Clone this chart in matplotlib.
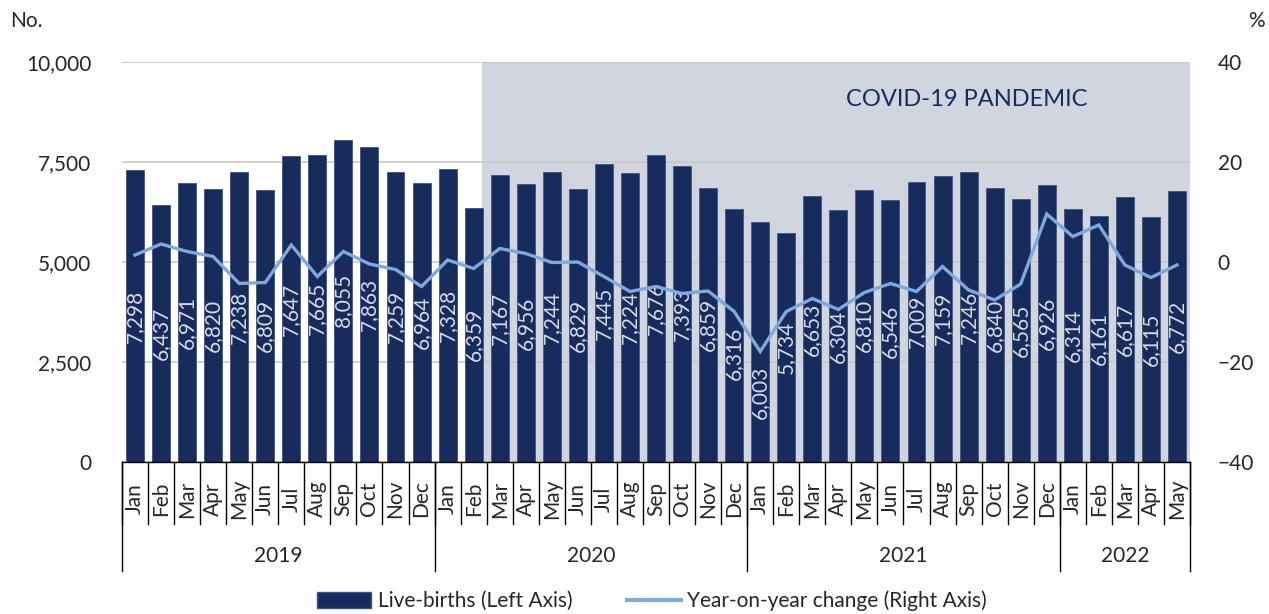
import matplotlib
matplotlib.use("Agg")
import matplotlib.pyplot as plt
import matplotlib.transforms as mtransforms
from matplotlib.patches import Patch
from matplotlib.lines import Line2D
import numpy as np

plt.rcParams['font.family'] = ['Lato', 'DejaVu Sans']

months = ["Jan", "Feb", "Mar", "Apr", "May", "Jun", "Jul", "Aug", "Sep", "Oct", "Nov", "Dec",
          "Jan", "Feb", "Mar", "Apr", "May", "Jun", "Jul", "Aug", "Sep", "Oct", "Nov", "Dec",
          "Jan", "Feb", "Mar", "Apr", "May", "Jun", "Jul", "Aug", "Sep", "Oct", "Nov", "Dec",
          "Jan", "Feb", "Mar", "Apr", "May"]
years = ["2019", "2020", "2021", "2022"]
year_counts = [12, 12, 12, 5]

live_births = [7298, 6437, 6971, 6820, 7238, 6809, 7647, 7665, 8055, 7863, 7259, 6964,
               7328, 6359, 7167, 6956, 7244, 6829, 7445, 7224, 7676, 7393, 6859, 6316,
               6003, 5734, 6653, 6304, 6810, 6546, 7009, 7159, 7246, 6840, 6565, 6926,
               6314, 6161, 6617, 6115, 6772]

yoy_change = [1.4, 3.6, 2.1, 1.1, -4.3, -4.1, 3.4, -2.9, 2.1, -0.4, -1.5, -4.9,
              0.4, -1.3, 2.7, 1.7, -0.1, 0.0, -2.9, -5.9, -4.9, -6.3, -5.8, -9.9,
              -17.9, -9.9, -7.3, -9.5, -6.1, -4.3, -5.9, -0.9, -5.6, -7.6, -4.4, 9.6,
              5.1, 7.4, -0.6, -3.1, -0.6]

BAR = "#172b5c"
LINE = "#80a8dd"
SHADE = "#d0d5e0"
LABEL = "#d5dae6"
TXT = "#262626"

n = len(live_births)
x = np.arange(n)

fig = plt.figure(figsize=(12.69, 6.14), dpi=100)
ax = fig.add_axes([122/1269, 1-462/614, (1190-122)/1269, 400/614])
ax2 = ax.twinx()

# pandemic shading
ax.axvspan(13.32, n - 0.5, color=SHADE, zorder=0.2, lw=0)
ax.text(0.904, 0.905, "COVID-19 PANDEMIC", transform=ax.transAxes, ha="right", va="center",
        fontsize=17, color=BAR, zorder=5)

ax.bar(x, live_births, width=0.69, color=BAR, edgecolor="#3f5380", linewidth=0.6, zorder=2)

# data labels (centered in bars, a couple moved down to avoid the line)
label_shift = {23: -430, 24: -1250}
for i, v in enumerate(live_births):
    ypos = v / 2 + label_shift.get(i, 0)
    ax.text(i, ypos, f"{v:,}", rotation=90, ha="center", va="center", color=LABEL,
            fontsize=15, fontweight="normal", zorder=3)

ax.set_xlim(-0.5, n - 0.5)
ax.set_ylim(0, 10000)
ax.set_yticks([0, 2500, 5000, 7500, 10000])
ax.set_yticklabels(["0", "2,500", "5,000", "7,500", "10,000"])
ax.yaxis.grid(True, color="#c8c8c8", lw=1.2)
ax.set_axisbelow(True)
ax.tick_params(axis="y", length=0, pad=22, labelsize=15, labelcolor=TXT)
ax.set_xticks([])

ax2.plot(x, yoy_change, color=LINE, lw=2.4, zorder=4, solid_joinstyle="miter")
ax2.set_ylim(-40, 40)
ax2.set_yticks([-40, -20, 0, 20, 40])
ax2.tick_params(axis="y", length=0, pad=20, labelsize=15, labelcolor=TXT)
for lab in ax2.get_yticklabels():
    lab.set_ha("left")

for a in (ax, ax2):
    for s in ("top", "left", "right"):
        a.spines[s].set_visible(False)
    a.spines["bottom"].set_color("#000000")
    a.spines["bottom"].set_linewidth(1.0)
ax2.spines["bottom"].set_visible(False)

# multi-level category axis
trans = mtransforms.blended_transform_factory(ax.transData, ax.transAxes)
for b in range(n + 1):
    bx = b - 0.5
    ax.plot([bx, bx], [0, -62/400], color="#000000", lw=1.0, transform=trans, clip_on=False)
for i, m in enumerate(months):
    ax.text(i, -37/400, m, rotation=90, ha="center", va="center", fontsize=15,
            color=TXT, transform=trans)
start = 0
bounds = [-0.5]
for yr, c in zip(years, year_counts):
    ax.text(start + (c - 1) / 2, -94/400, yr, ha="center", va="center", fontsize=15,
            color=TXT, transform=trans)
    start += c
    bounds.append(start - 0.5)
for bx in bounds:
    ax.plot([bx, bx], [0, -109/400], color="#000000", lw=1.0, transform=trans, clip_on=False)

fig.text(10/1269, 1-21/614, "No.", ha="left", va="center", fontsize=15, color=TXT)
fig.text(1265/1269, 1-21/614, "%", ha="right", va="center", fontsize=15, color=TXT)

handles = [Patch(facecolor=BAR, edgecolor="#3f5380", label="Live-births (Left Axis)"),
           Line2D([0], [0], color=LINE, lw=3, label="Year-on-year change (Right Axis)")]
fig.legend(handles=handles, loc="center", bbox_to_anchor=(652/1269, 1-601/614), ncol=2,
           frameon=False, fontsize=15, handlelength=2.6, handleheight=0.8,
           columnspacing=2.6, handletextpad=0.3, labelcolor=TXT)

fig.savefig("out.png", dpi=100)
